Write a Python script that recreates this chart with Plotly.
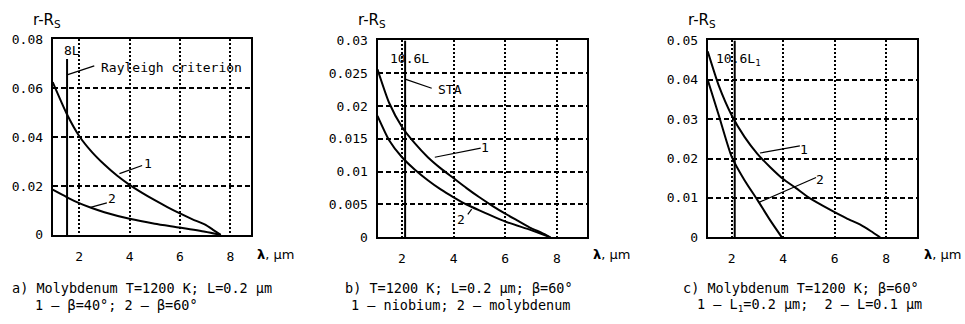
import plotly.graph_objects as go

# ---------------- data ----------------
# panel a
xa1 = [0.95, 1.5, 2, 2.5, 3, 3.5, 4, 4.5, 5, 5.5, 6, 6.5, 7, 7.3, 7.62]
ya1 = [0.0625, 0.0497, 0.0405, 0.034, 0.0288, 0.0243, 0.0205, 0.0172, 0.0142, 0.0114, 0.0088, 0.0064, 0.0042, 0.0022, 0]
xa2 = [0.95, 1.5, 2, 2.5, 3, 4, 5, 6, 7, 7.62]
ya2 = [0.0185, 0.0155, 0.013, 0.011, 0.0093, 0.0066, 0.0046, 0.003, 0.0013, 0]
# panel b
xb1 = [1.05, 1.5, 2, 2.5, 3, 3.5, 4, 4.5, 5, 5.5, 6, 6.5, 7, 7.4, 7.75]
yb1 = [0.0256, 0.0205, 0.0168, 0.0143, 0.0122, 0.0105, 0.009, 0.0075, 0.0061, 0.0048, 0.0036, 0.0025, 0.0014, 0.0007, 0]
xb2 = [1.05, 1.5, 2, 2.5, 3, 3.5, 4, 4.5, 5, 6, 7, 7.75]
yb2 = [0.0185, 0.0148, 0.0122, 0.0103, 0.0087, 0.0073, 0.0061, 0.005, 0.0041, 0.0024, 0.0011, 0]
# panel c
xc1 = [1.07, 1.5, 2, 2.5, 3, 3.5, 4, 4.5, 5, 5.5, 6, 6.5, 7, 7.4, 7.77]
yc1 = [0.0472, 0.0385, 0.031, 0.0255, 0.0212, 0.0178, 0.0148, 0.0125, 0.0101, 0.0082, 0.0064, 0.0047, 0.0032, 0.0016, 0]
xc2 = [1.07, 1.5, 2, 2.5, 3, 3.5, 3.95]
yc2 = [0.040, 0.031, 0.0205, 0.0145, 0.0095, 0.0043, 0]

# vertical reference lines (wavelength limits): x position, top value
vline_a = (1.52, 0.072)    # 8L
vline_b = (2.12, 0.03)     # 10.6L
vline_c = (2.12, 0.05)     # 10.6L1

# axis ranges and ticks
xrange_a = [0.95, 8.82]
xrange_b = [1.05, 9.18]
xrange_c = [1.07, 9.19]
x_ticks = [2, 4, 6, 8]
x_ticktext = ["2", "4", "6", "8"]
ya_ticks = [0, 0.02, 0.04, 0.06, 0.08]
ya_ticktext = ["0", "0.02", "0.04", "0.06", "0.08"]
yb_ticks = [0, 0.005, 0.01, 0.015, 0.02, 0.025, 0.03]
yb_ticktext = ["0", "0.005", "0.01", "0.015", "0.02", "0.025", "0.03"]
yc_ticks = [0, 0.01, 0.02, 0.03, 0.04, 0.05]
yc_ticktext = ["0", "0.01", "0.02", "0.03", "0.04", "0.05"]

# in-plot labels: (text, x, y, xanchor)
labels_a = [("8L", 1.72, 0.0755, "center"), ("Rayleigh criterion", 8.55, 0.0686, "right"),
            ("1", 4.72, 0.0292, "center"), ("2", 3.3, 0.0148, "center")]
leaders_a = [([1.52, 2.6], [0.0655, 0.0692]), ([3.6, 4.5], [0.0251, 0.0284]), ([2.45, 3.1], [0.0113, 0.0131])]
labels_b = [("10.6L", 2.28, 0.0272, "center"), ("STA", 3.3, 0.0225, "left"),
            ("1", 5.22, 0.0137, "center"), ("2", 4.3, 0.0027, "center")]
leaders_b = [([2.12, 3.15], [0.0241, 0.0227]), ([3.27, 5.05], [0.0122, 0.0136]), ([4.55, 4.7], [0.0035, 0.0043])]
labels_c = [("10.6L<sub>1</sub>", 1.3, 0.0452, "left"), ("1", 4.82, 0.0222, "center"), ("2", 5.45, 0.0148, "center")]
leaders_c = [([3.1, 4.65], [0.0214, 0.0232]), ([3.04, 5.28], [0.0088, 0.0152])]

captions = [
    ("a) Molybdenum T=1200 K; L=0.2 µm", "1 – β=40°; 2 – β=60°"),
    ("b) T=1200 K; L=0.2 µm; β=60°", "1 – niobium; 2 – molybdenum"),
    ("c) Molybdenum T=1200 K; β=60°", "1 – L<sub>1</sub>=0.2 µm;  2 – L=0.1 µm"),
]
caption_x = [(10, 33), (343, 349), (681, 695)]   # left edge of caption lines, px
y_title = "r-R<sub>S</sub>"
x_title = "<b>λ</b>, µm"
x_title_pos = [(255, "left"), (591, "left"), (963, "right")]   # px, anchor

# ---------------- layout geometry ----------------
W, H = 965, 324
MONO = "DejaVu Sans Mono"
SANS = "DejaVu Sans"


def px_dom_x(a, b):
    return [a / W, b / W]


def px_dom_y(top, bottom):
    return [1 - bottom / H, 1 - top / H]


panels = [
    dict(xd=px_dom_x(52.7, 251), yd=px_dom_y(34, 239), xr=xrange_a, yr=[0, 0.08],
         yt=ya_ticks, ytt=ya_ticktext, curves=[(xa1, ya1), (xa2, ya2)], vl=vline_a,
         labels=labels_a, leaders=leaders_a),
    dict(xd=px_dom_x(377.5, 587.3), yd=px_dom_y(35, 241.5), xr=xrange_b, yr=[0, 0.03],
         yt=yb_ticks, ytt=yb_ticktext, curves=[(xb1, yb1), (xb2, yb2)], vl=vline_b,
         labels=labels_b, leaders=leaders_b),
    dict(xd=px_dom_x(707.7, 916.7), yd=px_dom_y(35, 241.5), xr=xrange_c, yr=[0, 0.05],
         yt=yc_ticks, ytt=yc_ticktext, curves=[(xc1, yc1), (xc2, yc2)], vl=vline_c,
         labels=labels_c, leaders=leaders_c),
]

fig = go.Figure()
layout = dict(width=W, height=H, margin=dict(l=0, r=0, t=0, b=0),
              paper_bgcolor="white", plot_bgcolor="white", showlegend=False,
              font=dict(family=MONO, size=13, color="black"))
annotations = []

for i, p in enumerate(panels):
    n = "" if i == 0 else str(i + 1)
    xa, ya = "x" + n, "y" + n
    layout["xaxis" + n] = dict(domain=p["xd"], range=p["xr"], anchor=ya, showline=True, mirror=True,
                               linecolor="black", linewidth=2, ticks="", showgrid=True,
                               gridcolor="black", gridwidth=1.5, griddash="2px,2px", zeroline=False,
                               tickvals=x_ticks, ticktext=x_ticktext, ticklabelstandoff=8,
                               tickfont=dict(family=MONO, size=13, color="black"))
    layout["yaxis" + n] = dict(domain=p["yd"], range=p["yr"], anchor=xa, showline=True, mirror=True,
                               linecolor="black", linewidth=2, ticks="", showgrid=True,
                               gridcolor="black", gridwidth=1.5, griddash="5px,3px", zeroline=False,
                               tickvals=p["yt"], ticktext=p["ytt"], ticklabelstandoff=5,
                               tickfont=dict(family=MONO, size=13, color="black"))
    vx, vtop = p["vl"]
    fig.add_trace(go.Scatter(x=[vx, vx], y=[0, vtop], mode="lines", xaxis=xa, yaxis=ya,
                             line=dict(color="black", width=2), hoverinfo="skip"))
    for cx, cy in p["curves"]:
        fig.add_trace(go.Scatter(x=cx, y=cy, mode="lines", xaxis=xa, yaxis=ya,
                                 line=dict(color="black", width=2, shape="spline", smoothing=0.6)))
    for lx, ly in p["leaders"]:
        fig.add_trace(go.Scatter(x=lx, y=ly, mode="lines", xaxis=xa, yaxis=ya,
                                 line=dict(color="black", width=1.2), hoverinfo="skip"))
    for t, tx, ty, anc in p["labels"]:
        annotations.append(dict(text=t, x=tx, y=ty, xref=xa, yref=ya, showarrow=False, xanchor=anc,
                                font=dict(family=MONO, size=13, color="black")))
    x0 = p["xd"][0] * W
    annotations.append(dict(text=y_title, x=(x0 - 22) / W, y=1 - 14 / H, xref="paper", yref="paper",
                            xanchor="left", yanchor="middle", showarrow=False,
                            font=dict(family=SANS, size=15, color="black")))
    tx_px, tx_anc = x_title_pos[i]
    annotations.append(dict(text=x_title, x=tx_px / W, y=1 - 259 / H, xref="paper", yref="paper",
                            xanchor=tx_anc, yanchor="middle", showarrow=False,
                            font=dict(family=SANS, size=13, color="black")))
    c1, c2 = captions[i]
    cx1, cx2 = caption_x[i]
    annotations.append(dict(text=c1, x=cx1 / W, y=1 - 295 / H, xref="paper", yref="paper",
                            xanchor="left", yanchor="middle", showarrow=False,
                            font=dict(family=MONO, size=13.5, color="black")))
    annotations.append(dict(text=c2, x=cx2 / W, y=1 - 312 / H, xref="paper", yref="paper",
                            xanchor="left", yanchor="middle", showarrow=False,
                            font=dict(family=MONO, size=13.5, color="black")))

layout["annotations"] = annotations
fig.update_layout(**layout)
# remove the default page margin so the 965x324 figure fills the window exactly
fig.write_html("out.html", config={"displayModeBar": False},
               post_script="document.body.style.margin='0';document.body.style.overflow='hidden';")
